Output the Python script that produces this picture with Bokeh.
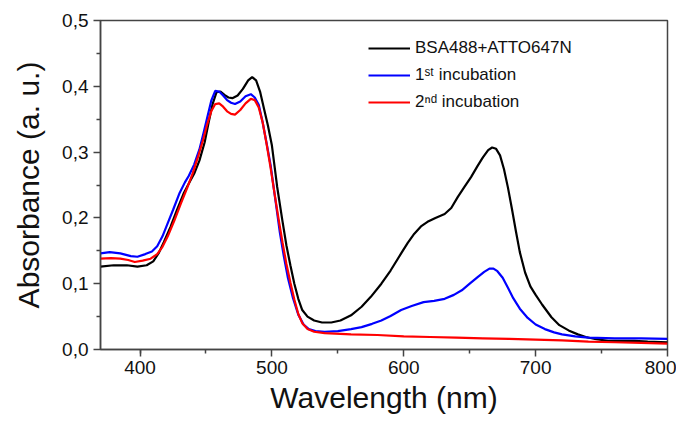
from bokeh.plotting import figure
from bokeh.models import Range1d, FixedTicker, Legend, LegendItem
from bokeh.embed import file_html
from bokeh.resources import INLINE

# ---- data ----
wl_black = [370, 380, 390, 398, 405, 410, 414, 418, 423, 428, 433, 438, 441, 445, 449, 452, 455, 458, 461, 464,
            467, 470, 474, 478, 482, 485, 488, 491, 494, 497, 500, 504, 508, 511, 514, 517, 520, 523, 527, 532,
            538, 545, 552, 560, 568, 575, 583, 590, 598, 603, 608, 613, 618, 624, 631, 636, 641, 646, 651, 656,
            660, 664, 667, 670, 673, 676, 679, 682, 685, 688, 692, 696, 700, 705, 712, 718, 725, 732, 738, 745,
            755, 765, 775, 785, 800]
abs_black = [0.126, 0.128, 0.128, 0.126, 0.128, 0.134, 0.146, 0.163, 0.186, 0.212, 0.237, 0.256, 0.267, 0.287,
             0.315, 0.345, 0.373, 0.391, 0.392, 0.387, 0.383, 0.382, 0.386, 0.396, 0.409, 0.414, 0.409, 0.392,
             0.366, 0.340, 0.310, 0.247, 0.195, 0.158, 0.128, 0.100, 0.077, 0.060, 0.050, 0.044, 0.041, 0.041,
             0.044, 0.052, 0.065, 0.080, 0.100, 0.120, 0.146, 0.162, 0.176, 0.187, 0.194, 0.200, 0.206, 0.215,
             0.232, 0.247, 0.262, 0.279, 0.292, 0.303, 0.307, 0.305, 0.295, 0.274, 0.246, 0.214, 0.180, 0.148,
             0.117, 0.096, 0.083, 0.068, 0.049, 0.037, 0.029, 0.023, 0.019, 0.016, 0.013, 0.013, 0.013, 0.012,
             0.011]

wl_blue = [370, 377, 385, 393, 398, 404, 409, 413, 417, 421, 425, 430, 434, 437, 441, 445, 448, 451, 454, 457,
           460, 463, 466, 469, 472, 476, 480, 484, 487, 490, 493, 496, 499, 503, 506, 509, 512, 516, 520, 524,
           528, 533, 540, 550, 560, 568, 576, 583, 590, 598, 606, 615, 623, 631, 638, 644, 650, 656, 661, 665,
           668, 671, 675, 679, 683, 688, 694, 700, 707, 714, 720, 730, 740, 760, 780, 800]
abs_blue = [0.146, 0.148, 0.146, 0.142, 0.141, 0.145, 0.149, 0.157, 0.172, 0.192, 0.212, 0.238, 0.254, 0.264,
            0.281, 0.304, 0.328, 0.353, 0.378, 0.393, 0.392, 0.386, 0.379, 0.375, 0.373, 0.377, 0.385, 0.388,
            0.383, 0.372, 0.345, 0.313, 0.280, 0.222, 0.178, 0.142, 0.110, 0.078, 0.053, 0.038, 0.031, 0.028,
            0.027, 0.028, 0.031, 0.034, 0.039, 0.044, 0.051, 0.060, 0.066, 0.072, 0.074, 0.077, 0.083, 0.090,
            0.100, 0.110, 0.118, 0.123, 0.123, 0.119, 0.109, 0.094, 0.078, 0.062, 0.048, 0.038, 0.031, 0.026,
            0.023, 0.020, 0.018, 0.017, 0.017, 0.016]

wl_red = [370, 378, 385, 391, 396, 402, 408, 413, 417, 421, 426, 431, 436, 440, 444, 448, 451, 454, 457, 460,
          463, 466, 469, 472, 476, 480, 484, 487, 490, 493, 496, 499, 502, 505, 508, 511, 514, 517, 520, 523,
          527, 532, 540, 560, 580, 600, 620, 640, 660, 680, 700, 720, 740, 760, 780, 800]
abs_red = [0.138, 0.139, 0.138, 0.136, 0.133, 0.135, 0.138, 0.145, 0.156, 0.172, 0.196, 0.222, 0.247, 0.268,
           0.293, 0.320, 0.343, 0.362, 0.373, 0.374, 0.369, 0.362, 0.358, 0.357, 0.364, 0.374, 0.381, 0.379,
           0.368, 0.345, 0.312, 0.276, 0.237, 0.199, 0.163, 0.130, 0.102, 0.076, 0.054, 0.040, 0.031, 0.027,
           0.025, 0.023, 0.022, 0.020, 0.019, 0.018, 0.017, 0.016, 0.015, 0.014, 0.012, 0.011, 0.010, 0.009]

series_labels = ["BSA488+ATTO647N", "1\u02e2\u1d57 incubation", "2\u207f\u1d48 incubation"]
x_ticks = [400, 500, 600, 700, 800]
x_tick_labels = ["400", "500", "600", "700", "800"]
y_ticks = [0.0, 0.1, 0.2, 0.3, 0.4, 0.5]
y_tick_labels = ["0,0", "0,1", "0,2", "0,3", "0,4", "0,5"]

FONT = "Liberation Sans"

p = figure(width=676, height=416, output_backend="svg", toolbar_location=None,
           x_range=Range1d(370, 800), y_range=Range1d(0, 0.5),
           min_border_left=100, min_border_right=9, min_border_top=20, min_border_bottom=67)
p.background_fill_color = "white"
p.border_fill_color = "white"
p.grid.visible = False
p.outline_line_color = "#444444"
p.outline_line_width = 1.5

r_black = p.line(wl_black, abs_black, line_color="#000000", line_width=2.2)
r_blue = p.line(wl_blue, abs_blue, line_color="#0000ff", line_width=2.2)
r_red = p.line(wl_red, abs_red, line_color="#ff0000", line_width=2.2)

for ax in (p.xaxis[0], p.yaxis[0]):
    ax.axis_line_color = "#444444"
    ax.axis_line_width = 1.5
    ax.major_tick_line_color = "#444444"
    ax.minor_tick_line_color = "#444444"
    ax.major_tick_line_width = 1.5
    ax.minor_tick_line_width = 1.5
    ax.major_tick_in = 0
    ax.major_tick_out = 7
    ax.minor_tick_in = 0
    ax.minor_tick_out = 4
    ax.major_label_text_font = FONT
    ax.major_label_text_font_size = "19px"
    ax.major_label_text_color = "#111111"
    ax.axis_label_text_font = FONT
    ax.axis_label_text_font_size = "30px"
    ax.axis_label_text_font_style = "normal"
    ax.axis_label_text_color = "#111111"

p.xaxis[0].ticker = FixedTicker(ticks=x_ticks, minor_ticks=[x + 50 for x in [350] + x_ticks[:-1]])
p.xaxis[0].major_label_overrides = dict(zip(x_ticks, x_tick_labels))
p.yaxis[0].ticker = FixedTicker(ticks=y_ticks, minor_ticks=[y + 0.05 for y in y_ticks[:-1]])
p.yaxis[0].major_label_overrides = dict(zip(y_ticks, y_tick_labels))
p.xaxis[0].axis_label = "Wavelength (nm)"
p.yaxis[0].axis_label = "Absorbance (a. u.)"
p.xaxis[0].major_label_standoff = 4
p.yaxis[0].major_label_standoff = 5
p.xaxis[0].axis_label_standoff = 4
p.yaxis[0].axis_label_standoff = 14

legend = Legend(items=[LegendItem(label=series_labels[0], renderers=[r_black]),
                       LegendItem(label=series_labels[1], renderers=[r_blue]),
                       LegendItem(label=series_labels[2], renderers=[r_red])],
                location=(268, 237))
legend.border_line_color = None
legend.background_fill_alpha = 0
legend.label_text_font = FONT
legend.label_text_font_size = "17px"
legend.label_text_color = "#111111"
legend.glyph_width = 42
legend.glyph_height = 20
legend.label_height = 20
legend.spacing = 7
legend.padding = 0
legend.margin = 0
legend.label_standoff = 5
p.add_layout(legend)

open("out.html", "w").write(file_html(p, INLINE))
